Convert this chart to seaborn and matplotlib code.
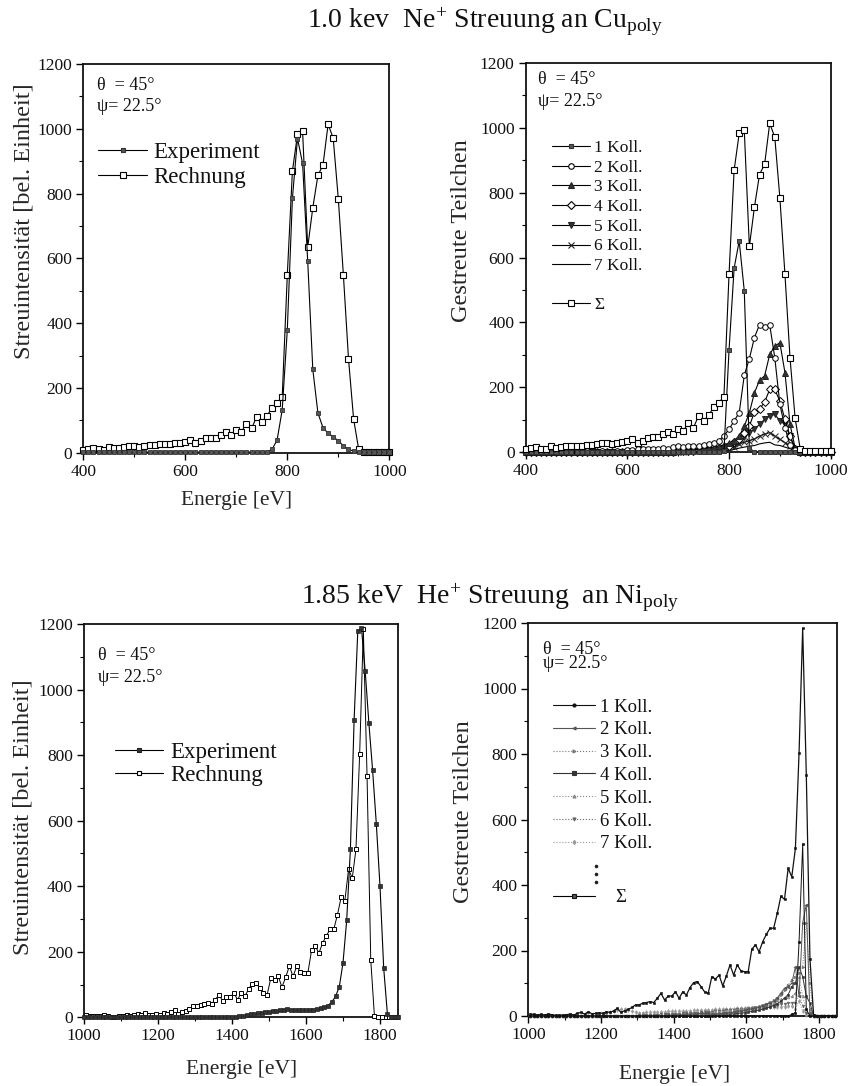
import matplotlib
matplotlib.use("Agg")
import matplotlib.pyplot as plt
from matplotlib.lines import Line2D
from matplotlib.ticker import MultipleLocator
import seaborn as sns

W, H = 851, 1086

# ---------------------------------------------------------------
# 1.0 keV Ne+ scattered on polycrystalline Cu (10 eV channels)
# ---------------------------------------------------------------
cu_energy = list(range(400, 1001, 10))

cu_experiment = [
    3, 3, 2, 2, 2, 2, 2, 2, 2, 2,
    2, 2, 2, 2, 2, 2, 2, 2, 2, 2,
    2, 2, 2, 2, 2, 2, 2, 2, 2, 2,
    2, 2, 2, 2, 2, 2, 3, 10, 39, 132,
    379, 785, 970, 893, 592, 257, 123, 77, 60, 49,
    37, 21, 10, 5, 2, 1, 1, 1, 1, 1,
    1]

cu_rechnung = [
    8, 12, 14, 10, 9, 17, 13, 15, 18, 20,
    20, 18, 22, 23, 25, 27, 28, 26, 29, 31,
    34, 40, 29, 35, 44, 46, 46, 55, 63, 55,
    70, 65, 90, 75, 111, 96, 113, 139, 152, 171,
    548, 869, 983, 992, 634, 756, 856, 888, 1014, 971,
    784, 548, 290, 104, 10, 2, 2, 2, 2, 2,
    2]

cu_koll_1 = [
    0, 0, 0, 0, 0, 0, 0, 0, 0, 0,
    0, 0, 0, 0, 0, 0, 0, 0, 0, 0,
    0, 0, 0, 0, 0, 0, 0, 0, 0, 0,
    0, 0, 0, 0, 0, 0, 0, 0, 0, 3,
    314, 567, 651, 497, 13, 0, 0, 0, 0, 0,
    0, 0, 0, 0, 0, 0, 0, 0, 0, 0,
    0]

cu_koll_2 = [
    0, 0, 0, 0, 0, 0, 0, 0, 0, 0,
    0, 0, 2, 0, 0, 3, 0, 0, 2, 0,
    5, 5, 8, 10, 8, 10, 8, 12, 10, 15,
    18, 15, 18, 20, 18, 22, 25, 29, 35, 50,
    70, 96, 121, 237, 288, 353, 393, 387, 392, 291,
    147, 75, 21, 6, 0, 0, 0, 0, 0, 0,
    0]

cu_koll_3 = [
    0, 0, 0, 0, 0, 0, 0, 0, 0, 0,
    0, 0, 0, 0, 0, 0, 0, 0, 0, 0,
    0, 0, 0, 0, 0, 0, 0, 0, 0, 0,
    3, 4, 5, 6, 8, 10, 12, 14, 18, 22,
    28, 35, 49, 80, 121, 183, 221, 235, 301, 327,
    337, 245, 85, 13, 0, 0, 0, 0, 0, 0,
    0]

cu_koll_4 = [
    0, 0, 0, 0, 0, 0, 0, 0, 0, 0,
    0, 0, 0, 0, 0, 0, 0, 0, 0, 0,
    0, 0, 0, 0, 0, 0, 0, 0, 0, 0,
    2, 2, 3, 4, 5, 6, 8, 10, 12, 15,
    20, 30, 40, 60, 80, 123, 132, 154, 193, 193,
    157, 101, 49, 10, 0, 0, 0, 0, 0, 0,
    0]

cu_koll_5 = [
    0, 0, 0, 0, 0, 0, 0, 0, 0, 0,
    0, 0, 0, 0, 0, 0, 0, 0, 0, 0,
    0, 0, 0, 0, 0, 0, 0, 0, 0, 0,
    1, 2, 2, 3, 4, 5, 6, 7, 8, 10,
    15, 20, 30, 45, 60, 70, 85, 101, 111, 116,
    96, 85, 49, 10, 0, 0, 0, 0, 0, 0,
    0]

cu_koll_6 = [
    0, 0, 0, 0, 0, 0, 0, 0, 0, 0,
    0, 0, 0, 0, 0, 0, 0, 0, 0, 0,
    0, 0, 0, 0, 0, 0, 0, 0, 0, 0,
    1, 1, 2, 2, 3, 3, 4, 5, 6, 8,
    10, 15, 25, 30, 35, 40, 49, 55, 60, 49,
    39, 29, 19, 8, 0, 0, 0, 0, 0, 0,
    0]

cu_koll_7 = [
    0, 0, 0, 0, 0, 0, 0, 0, 0, 0,
    0, 0, 0, 0, 0, 0, 0, 0, 0, 0,
    0, 0, 0, 0, 0, 0, 0, 0, 0, 0,
    1, 1, 1, 2, 2, 2, 3, 3, 4, 5,
    5, 8, 12, 15, 18, 20, 25, 28, 30, 22,
    20, 15, 10, 5, 0, 0, 0, 0, 0, 0,
    0]

# ---------------------------------------------------------------
# 1.85 keV He+ scattered on polycrystalline Ni
# ---------------------------------------------------------------
ni_exp_energy = list(range(1000, 1851, 10))
ni_experiment = [
    1, 1, 1, 1, 1, 1, 1, 1, 1, 1,
    1, 1, 1, 1, 1, 1, 1, 1, 1, 1,
    1, 1, 1, 1, 1, 1, 1, 1, 1, 1,
    1, 1, 1, 1, 1, 1, 2, 2, 2, 2,
    2, 2, 3, 5, 7, 9, 11, 12, 14, 15,
    17, 18, 20, 21, 23, 24, 23, 22, 21, 21,
    21, 22, 23, 25, 28, 31, 36, 47, 64, 93,
    166, 296, 512, 907, 1180, 1187, 1056, 897, 754, 591,
    400, 150, 10, 2, 1, 1]

ni_energy = list(range(1005, 1846, 10))
ni_rechnung = [
    6, 5, 3, 5, 3, 6, 4, 2, 2, 3,
    4, 6, 3, 8, 11, 6, 13, 7, 8, 10,
    8, 13, 11, 16, 23, 11, 16, 20, 26, 34,
    34, 39, 41, 44, 41, 54, 69, 49, 61, 61,
    74, 54, 74, 64, 87, 102, 105, 90, 74, 69,
    120, 113, 125, 92, 122, 156, 125, 156, 138, 135,
    135, 204, 217, 196, 227, 249, 268, 268, 313, 366,
    356, 451, 425, 512, 802, 1184, 736, 175, 3, 1,
    1, 1, 1, 1, 1]

ni_koll_1 = [
    0, 0, 0, 0, 0, 0, 0, 0, 0, 0,
    0, 0, 0, 0, 0, 0, 0, 0, 0, 0,
    0, 0, 0, 0, 0, 0, 0, 0, 0, 0,
    0, 0, 0, 0, 0, 0, 0, 0, 0, 0,
    0, 0, 0, 0, 0, 0, 0, 0, 0, 0,
    0, 0, 0, 0, 0, 0, 0, 0, 0, 0,
    0, 0, 0, 0, 0, 0, 0, 0, 0, 0,
    0, 0, 5, 10, 225, 525, 20, 0, 0, 0,
    0, 0, 0, 0, 0]

ni_koll_2 = [
    0, 0, 0, 0, 0, 0, 0, 0, 0, 0,
    0, 0, 0, 0, 0, 0, 0, 0, 0, 0,
    0, 0, 0, 0, 0, 0, 0, 0, 0, 0,
    0, 0, 0, 0, 0, 1, 1, 2, 2, 3,
    3, 4, 4, 5, 6, 6, 7, 8, 8, 9,
    5, 6, 7, 8, 9, 10, 12, 14, 16, 18,
    20, 22, 25, 28, 32, 36, 40, 45, 55, 70,
    85, 90, 100, 150, 60, 285, 340, 5, 0, 0,
    0, 0, 0, 0, 0]

ni_koll_3 = [
    0, 0, 0, 0, 0, 0, 0, 0, 0, 0,
    0, 0, 0, 0, 0, 0, 0, 0, 0, 0,
    0, 0, 0, 0, 0, 0, 0, 0, 0, 0,
    0, 0, 0, 0, 0, 0, 0, 0, 0, 0,
    1, 1, 2, 2, 3, 3, 4, 4, 5, 5,
    6, 7, 8, 9, 10, 12, 13, 15, 17, 19,
    21, 23, 26, 29, 33, 37, 42, 48, 55, 65,
    80, 95, 110, 120, 130, 150, 285, 100, 0, 0,
    0, 0, 0, 0, 0]

ni_koll_4 = [
    0, 0, 0, 0, 0, 0, 0, 0, 0, 0,
    0, 0, 0, 0, 0, 0, 0, 0, 0, 0,
    0, 0, 0, 0, 0, 0, 0, 0, 0, 0,
    0, 0, 0, 0, 0, 0, 0, 0, 0, 0,
    0, 0, 0, 0, 0, 0, 0, 0, 0, 0,
    2, 3, 3, 4, 5, 6, 7, 8, 9, 10,
    12, 14, 16, 18, 21, 24, 28, 32, 38, 45,
    55, 65, 90, 100, 150, 120, 60, 40, 0, 0,
    0, 0, 0, 0, 0]

ni_koll_5 = [
    0, 0, 0, 0, 0, 0, 0, 0, 0, 0,
    0, 0, 0, 0, 0, 0, 0, 0, 0, 0,
    0, 0, 0, 0, 0, 0, 0, 0, 0, 0,
    0, 0, 0, 0, 0, 0, 0, 0, 0, 0,
    3, 4, 4, 5, 5, 6, 6, 7, 8, 9,
    10, 11, 12, 13, 14, 15, 17, 18, 20, 22,
    24, 26, 28, 31, 34, 37, 40, 44, 48, 52,
    55, 58, 60, 70, 120, 60, 20, 20, 0, 0,
    0, 0, 0, 0, 0]

ni_koll_6 = [
    0, 0, 0, 0, 0, 0, 0, 0, 0, 0,
    0, 0, 0, 0, 0, 0, 0, 0, 0, 0,
    0, 0, 0, 0, 0, 0, 0, 0, 0, 0,
    2, 2, 3, 3, 4, 4, 5, 5, 6, 6,
    7, 7, 8, 8, 9, 10, 10, 11, 12, 12,
    13, 14, 15, 16, 17, 18, 19, 20, 21, 22,
    23, 24, 25, 27, 28, 30, 31, 33, 35, 37,
    38, 40, 40, 40, 70, 30, 8, 10, 0, 0,
    0, 0, 0, 0, 0]

ni_koll_7 = [
    0, 0, 0, 0, 0, 0, 0, 0, 0, 0,
    0, 0, 0, 0, 0, 0, 0, 0, 2, 4,
    6, 8, 12, 14, 18, 20, 22, 18, 14, 12,
    10, 10, 11, 11, 12, 12, 13, 13, 14, 14,
    14, 15, 15, 16, 16, 17, 17, 18, 18, 19,
    19, 20, 20, 21, 21, 22, 22, 23, 23, 24,
    24, 25, 25, 26, 26, 27, 27, 28, 28, 29,
    29, 30, 30, 22, 47, 15, 3, 5, 0, 0,
    0, 0, 0, 0, 0]

title_cu = r"1.0 kev  Ne$^{+}$ Streuung an Cu$_{\rm poly}$"
title_ni = r"1.85 keV  He$^{+}$ Streuung  an Ni$_{\rm poly}$"
ylabel_int = "Streuintensität [bel. Einheit]"
ylabel_cnt = "Gestreute Teilchen"
xlabel = "Energie [eV]"
angle_theta = "θ  = 45°"
angle_psi = "ψ= 22.5°"
koll_labels = ["1 Koll.", "2 Koll.", "3 Koll.", "4 Koll.", "5 Koll.", "6 Koll.", "7 Koll."]

# ---------------------------------------------------------------
sns.set_theme(style="ticks")
plt.rcParams["font.family"] = ["Liberation Serif", "DejaVu Serif"]
plt.rcParams["mathtext.fontset"] = "custom"
plt.rcParams["mathtext.rm"] = "Liberation Serif"
plt.rcParams["mathtext.it"] = "Liberation Serif:italic"
plt.rcParams["mathtext.bf"] = "Liberation Serif:bold"

fig = plt.figure(figsize=(W / 100, H / 100), dpi=100)
fig.patch.set_facecolor("white")


def px_axes(left, top, right, bottom):
    return fig.add_axes([left / W, 1 - bottom / H, (right - left) / W, (bottom - top) / H])


def style_axes(ax, xlim):
    ax.set_facecolor("white")
    ax.set_xlim(*xlim)
    ax.set_ylim(0, 1200)
    ax.xaxis.set_major_locator(MultipleLocator(200))
    ax.xaxis.set_minor_locator(MultipleLocator(100))
    ax.yaxis.set_major_locator(MultipleLocator(200))
    ax.yaxis.set_minor_locator(MultipleLocator(100))
    ax.tick_params(which="both", direction="out", top=False, right=False,
                   colors="black", labelsize=12.5, labelcolor="#111111")
    ax.tick_params(which="major", length=5, width=1.0, pad=3)
    ax.tick_params(which="minor", length=3, width=0.8)
    for s in ax.spines.values():
        s.set_visible(True)
        s.set_linewidth(1.3)
        s.set_color("#111111")
    ax.set_xlabel("")
    ax.set_ylabel("")


def draw(ax, x, y, **kw):
    base = dict(color="black", linewidth=0.8, clip_on=False, zorder=3)
    base.update(kw)
    sns.lineplot(x=x, y=y, ax=ax, estimator=None, sort=False, legend=False, **base)


def fpt(x, y):
    return x / W, 1 - y / H


def legend_row(y, x0, x1, tx, label, size, marker=None, ms=4, mfc="white",
               mec="black", color="black", ls="-", lw=0.8):
    fx0, fy = fpt(x0, y)
    fx1, _ = fpt(x1, y)
    fig.add_artist(Line2D([fx0, (fx0 + fx1) / 2, fx1], [fy, fy, fy],
                          transform=fig.transFigure, color=color, linestyle=ls,
                          linewidth=lw, marker=marker, markevery=[1], markersize=ms,
                          markerfacecolor=mfc, markeredgecolor=mec, markeredgewidth=0.8))
    ftx, _ = fpt(tx, y)
    fig.text(ftx, fy, label, fontsize=size, ha="left", va="center_baseline", color="#111111")


def angles(x, y1, y2, size=13):
    fig.text(*fpt(x, y1), angle_theta, fontsize=size, ha="left", va="center", color="#111111")
    fig.text(*fpt(x, y2), angle_psi, fontsize=size, ha="left", va="center", color="#111111")


YLAB = 17.5

# ---------------- top left: experiment vs. calculation, Cu ----------------
ax_tl = px_axes(83.3, 64, 389.3, 452.7)
style_axes(ax_tl, (400, 1000))
draw(ax_tl, cu_energy, cu_rechnung, marker="s", markersize=4, markerfacecolor="white",
     markeredgecolor="black", markeredgewidth=0.8)
draw(ax_tl, cu_energy, cu_experiment, marker="s", markersize=2.8, markerfacecolor="#555555",
     markeredgecolor="#333333", markeredgewidth=0.6)
ax_tl.set_xlabel(xlabel, fontsize=15.5, labelpad=8)
ax_tl.set_ylabel(ylabel_int, fontsize=YLAB)
ax_tl.yaxis.set_label_coords(-0.16, 0.595)
angles(96.7, 85, 106.7)
legend_row(150, 98, 147, 153, "Experiment", 16.5, marker="s", ms=3, mfc="#555555", mec="#333333")
legend_row(175, 98, 147, 153, "Rechnung", 16.5, marker="s", ms=4.5)

# ---------------- top right: collision orders, Cu ----------------
ax_tr = px_axes(525.7, 63, 830.7, 452)
style_axes(ax_tr, (400, 1000))
cu_styles = [
    dict(marker="s", markersize=3.0, markerfacecolor="#555555", markeredgecolor="#333333"),
    dict(marker="o", markersize=4, markerfacecolor="white", markeredgecolor="black"),
    dict(marker="^", markersize=4.2, markerfacecolor="#333333", markeredgecolor="#222222"),
    dict(marker="D", markersize=3.6, markerfacecolor="white", markeredgecolor="black"),
    dict(marker="v", markersize=4.2, markerfacecolor="#333333", markeredgecolor="#222222"),
    dict(marker="x", markersize=3.8, markeredgecolor="#222222"),
    dict(marker=None),
]
cu_kolls = [cu_koll_1, cu_koll_2, cu_koll_3, cu_koll_4, cu_koll_5, cu_koll_6, cu_koll_7]
for series, st in zip(cu_kolls[::-1], cu_styles[::-1]):
    draw(ax_tr, cu_energy, series, markeredgewidth=0.7, **st)
draw(ax_tr, cu_energy, cu_rechnung, marker="s", markersize=4, markerfacecolor="white",
     markeredgecolor="black", markeredgewidth=0.8)
ax_tr.set_ylabel(ylabel_cnt, fontsize=YLAB)
ax_tr.yaxis.set_label_coords(-0.175, 0.57)
angles(538, 80, 101.7)
row_y = [146 + 19.7 * i for i in range(7)]
for yy, lab, st in zip(row_y, koll_labels, cu_styles):
    legend_row(yy, 552, 590, 594, lab, 12.5, marker=st.get("marker"), ms=st.get("markersize", 4),
               mfc=st.get("markerfacecolor", "white"), mec=st.get("markeredgecolor", "black"))
legend_row(302.7, 552, 590, 594, "Σ", 12.5, marker="s", ms=4)

# ---------------- bottom left: experiment vs. calculation, Ni ----------------
ax_bl = px_axes(84, 624, 398.5, 1017.3)
style_axes(ax_bl, (1000, 1850))
draw(ax_bl, ni_energy, ni_rechnung, marker="s", markersize=3.2, markerfacecolor="white",
     markeredgecolor="black", markeredgewidth=0.7, linewidth=0.7)
draw(ax_bl, ni_exp_energy, ni_experiment, marker="s", markersize=2.2, markerfacecolor="#333333",
     markeredgecolor="#222222", markeredgewidth=0.5, linewidth=0.8)
ax_bl.set_xlabel(xlabel, fontsize=15.5, labelpad=11)
ax_bl.set_ylabel(ylabel_int, fontsize=YLAB)
ax_bl.yaxis.set_label_coords(-0.16, 0.51)
angles(98, 655, 678)
legend_row(750, 115, 163, 170, "Experiment", 16.5, marker="s", ms=2.6, mfc="#333333", mec="#222222")
legend_row(773, 115, 163, 170, "Rechnung", 16.5, marker="s", ms=3.5)

# ---------------- bottom right: collision orders, Ni ----------------
ax_br = px_axes(528.3, 623, 837.2, 1016)
style_axes(ax_br, (1000, 1850))
ni_styles = [
    dict(color="#111111", linestyle="-", marker="o", markersize=1.8, markerfacecolor="#111111", markeredgecolor="#111111"),
    dict(color="#555555", linestyle="-", marker="<", markersize=2.2, markerfacecolor="#555555", markeredgecolor="#555555"),
    dict(color="#777777", linestyle=":", marker=">", markersize=2.0, markerfacecolor="#777777", markeredgecolor="#777777"),
    dict(color="#333333", linestyle="-", marker="s", markersize=1.8, markerfacecolor="#333333", markeredgecolor="#333333"),
    dict(color="#888888", linestyle=":", marker="^", markersize=2.0, markerfacecolor="#888888", markeredgecolor="#888888"),
    dict(color="#666666", linestyle=":", marker="v", markersize=2.0, markerfacecolor="#666666", markeredgecolor="#666666"),
    dict(color="#999999", linestyle=":", marker="d", markersize=2.0, markerfacecolor="#999999", markeredgecolor="#999999"),
]
ni_kolls = [ni_koll_1, ni_koll_2, ni_koll_3, ni_koll_4, ni_koll_5, ni_koll_6, ni_koll_7]
for series, st in zip(ni_kolls[::-1], ni_styles[::-1]):
    draw(ax_br, ni_energy, series, linewidth=0.7, markeredgewidth=0.4, **st)
draw(ax_br, ni_energy, ni_rechnung, color="#111111", marker="s", markersize=2.0,
     markerfacecolor="#111111", markeredgecolor="#111111", markeredgewidth=0.4, linewidth=0.9)
ax_br.set_xlabel(xlabel, fontsize=15.5)
ax_br.xaxis.set_label_coords(0.475, -0.125)
ax_br.set_ylabel(ylabel_cnt, fontsize=YLAB)
ax_br.yaxis.set_label_coords(-0.175, 0.52)
angles(543, 649, 664)
row_y = [705 + 22.8 * i for i in range(7)]
for yy, lab, st in zip(row_y, koll_labels, ni_styles):
    legend_row(yy, 553, 595, 600, lab, 13.5, marker=st["marker"], ms=2.2,
               mfc=st["markerfacecolor"], mec=st["markeredgecolor"], color=st["color"],
               ls=st["linestyle"])
for yy in (866, 874, 882):
    fig.add_artist(Line2D([596 / W], [1 - yy / H], transform=fig.transFigure,
                          marker="o", markersize=1.6, color="#222222", linestyle="none"))
legend_row(896, 553, 595, 615, "Σ", 13.5, marker="s", ms=3.2, mfc="#555555", mec="#111111")

# ---------------- titles ----------------
fig.text(485 / W, 1 - 21 / H, title_cu, fontsize=20, ha="center", va="center", color="#111111")
fig.text(490 / W, 1 - 597 / H, title_ni, fontsize=20, ha="center", va="center", color="#111111")

fig.savefig("out.png", dpi=100, facecolor="white")
